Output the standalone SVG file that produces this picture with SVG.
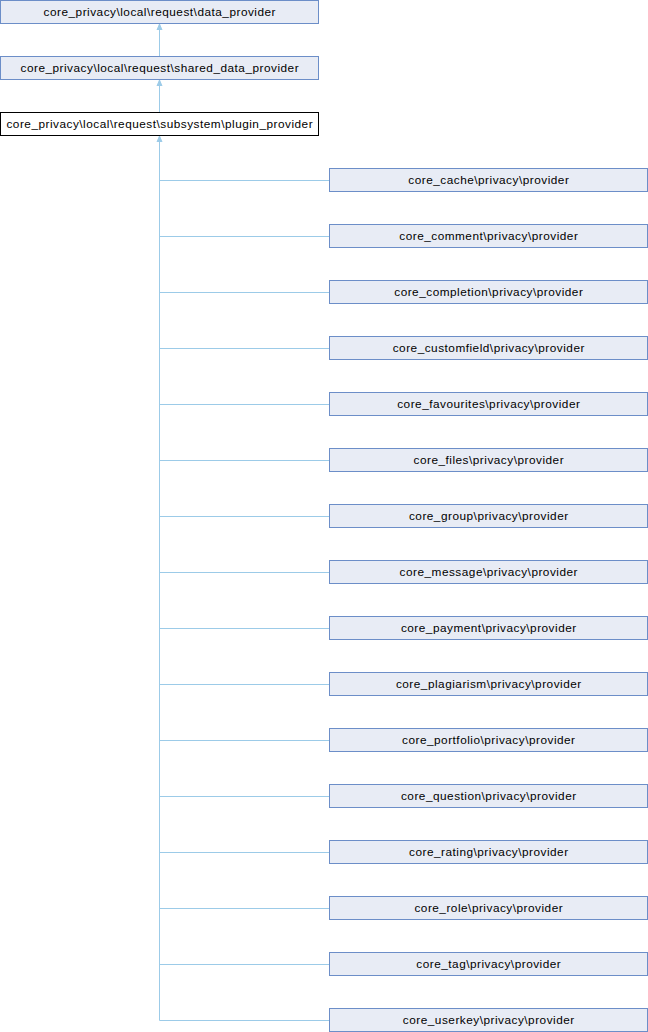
<svg xmlns="http://www.w3.org/2000/svg" width="648" height="1032" viewBox="0 0 648 1032">
<style>
  .node rect { fill: #e8ecf5; stroke: #6c8ec8; stroke-width: 1; }
  .node.cur rect { fill: #ffffff; stroke: #000000; }
  .node text { font-family: "Liberation Sans", Arial, sans-serif; font-size: 11.8px; letter-spacing: 0.5px; fill: #000000; text-anchor: middle; }
  .edge { fill: none; stroke: #9ccbe8; stroke-width: 1; }
</style>
<defs>
  <!-- small filled head for the inheritance edges -->
  <marker id="arr" markerWidth="8" markerHeight="8" refX="6" refY="4" orient="auto" markerUnits="userSpaceOnUse">
    <path d="M0,1.5 L6,4 L0,6.5 Z" fill="#9ccbe8" stroke="#9ccbe8" stroke-width="1"/>
  </marker>
</defs>
<rect width="648" height="1032" fill="#ffffff"/>

<g id="connectors">
  <path class="edge" d="M159.5,56.5 V24" marker-end="url(#arr)"/>
  <path class="edge" d="M159.5,112.5 V80" marker-end="url(#arr)"/>
  <path class="edge" d="M159.5,1020.5 V136" marker-end="url(#arr)"/>
  <path class="edge" d="M159.5,180.5 H329.5 M159.5,236.5 H329.5 M159.5,292.5 H329.5 M159.5,348.5 H329.5 M159.5,404.5 H329.5 M159.5,460.5 H329.5 M159.5,516.5 H329.5 M159.5,572.5 H329.5 M159.5,628.5 H329.5 M159.5,684.5 H329.5 M159.5,740.5 H329.5 M159.5,796.5 H329.5 M159.5,852.5 H329.5 M159.5,908.5 H329.5 M159.5,964.5 H329.5 M159.5,1020.5 H329.5"/>
</g>

<g id="data_provider" class="node"><rect x="0.5" y="0.5" width="318" height="23"/><text x="159.8" y="16">core_privacy\local\request\data_provider</text></g>
<g id="shared_data_provider" class="node"><rect x="0.5" y="56.5" width="318" height="23"/><text x="159.8" y="72">core_privacy\local\request\shared_data_provider</text></g>
<g id="plugin_provider" class="node cur"><rect x="0.5" y="112.5" width="318" height="23"/><text x="159.8" y="128">core_privacy\local\request\subsystem\plugin_provider</text></g>

<g id="core_cache" class="node"><rect x="329.5" y="168.5" width="318" height="23"/><text x="488.8" y="184">core_cache\privacy\provider</text></g>
<g id="core_comment" class="node"><rect x="329.5" y="224.5" width="318" height="23"/><text x="488.8" y="240">core_comment\privacy\provider</text></g>
<g id="core_completion" class="node"><rect x="329.5" y="280.5" width="318" height="23"/><text x="488.8" y="296">core_completion\privacy\provider</text></g>
<g id="core_customfield" class="node"><rect x="329.5" y="336.5" width="318" height="23"/><text x="488.8" y="352">core_customfield\privacy\provider</text></g>
<g id="core_favourites" class="node"><rect x="329.5" y="392.5" width="318" height="23"/><text x="488.8" y="408">core_favourites\privacy\provider</text></g>
<g id="core_files" class="node"><rect x="329.5" y="448.5" width="318" height="23"/><text x="488.8" y="464">core_files\privacy\provider</text></g>
<g id="core_group" class="node"><rect x="329.5" y="504.5" width="318" height="23"/><text x="488.8" y="520">core_group\privacy\provider</text></g>
<g id="core_message" class="node"><rect x="329.5" y="560.5" width="318" height="23"/><text x="488.8" y="576">core_message\privacy\provider</text></g>
<g id="core_payment" class="node"><rect x="329.5" y="616.5" width="318" height="23"/><text x="488.8" y="632">core_payment\privacy\provider</text></g>
<g id="core_plagiarism" class="node"><rect x="329.5" y="672.5" width="318" height="23"/><text x="488.8" y="688">core_plagiarism\privacy\provider</text></g>
<g id="core_portfolio" class="node"><rect x="329.5" y="728.5" width="318" height="23"/><text x="488.8" y="744">core_portfolio\privacy\provider</text></g>
<g id="core_question" class="node"><rect x="329.5" y="784.5" width="318" height="23"/><text x="488.8" y="800">core_question\privacy\provider</text></g>
<g id="core_rating" class="node"><rect x="329.5" y="840.5" width="318" height="23"/><text x="488.8" y="856">core_rating\privacy\provider</text></g>
<g id="core_role" class="node"><rect x="329.5" y="896.5" width="318" height="23"/><text x="488.8" y="912">core_role\privacy\provider</text></g>
<g id="core_tag" class="node"><rect x="329.5" y="952.5" width="318" height="23"/><text x="488.8" y="968">core_tag\privacy\provider</text></g>
<g id="core_userkey" class="node"><rect x="329.5" y="1008.5" width="318" height="23"/><text x="488.8" y="1024">core_userkey\privacy\provider</text></g>
</svg>
